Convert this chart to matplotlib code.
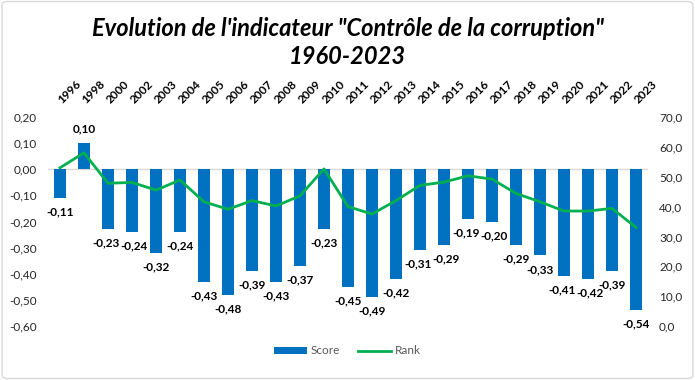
import matplotlib
matplotlib.use("Agg")
import matplotlib.pyplot as plt
from matplotlib.patches import Patch, FancyBboxPatch
from matplotlib.lines import Line2D

plt.rcParams['font.family'] = ['Lato', 'DejaVu Sans']

years = ["1996", "1998", "2000", "2002", "2003", "2004", "2005", "2006", "2007", "2008",
         "2009", "2010", "2011", "2012", "2013", "2014", "2015", "2016", "2017", "2018",
         "2019", "2020", "2021", "2022", "2023"]
score = [-0.11, 0.10, -0.23, -0.24, -0.32, -0.24, -0.43, -0.48, -0.39, -0.43,
         -0.37, -0.23, -0.45, -0.49, -0.42, -0.31, -0.29, -0.19, -0.20, -0.29,
         -0.33, -0.41, -0.42, -0.39, -0.54]
rank = [53.0, 58.0, 47.8, 48.1, 45.5, 48.9, 41.6, 39.1, 42.0, 40.2,
        43.6, 52.6, 40.0, 37.5, 42.0, 47.1, 48.2, 50.3, 49.2, 44.4,
        41.6, 38.5, 38.5, 39.4, 33.0]
left_ticks = [0.2, 0.1, 0.0, -0.1, -0.2, -0.3, -0.4, -0.5, -0.6]
right_ticks = [0, 10, 20, 30, 40, 50, 60, 70]

# small horizontal nudges (points) for labels of neighbouring bars that touch
nudge = {"2000": -1.5, "2002": 1.5, "2014": -1.2, "2015": 1.2, "2016": -1.5, "2017": 1.5,
         "2020": -1.5, "2021": 1.5}

W, H = 695, 380
fig = plt.figure(figsize=(W / 100, H / 100), dpi=100)
fig.patch.set_facecolor('white')
border = FancyBboxPatch((0.003, 0.004), 0.994, 0.992, boxstyle="round,pad=0,rounding_size=0.008",
                        transform=fig.transFigure, facecolor='none', edgecolor='#D9D9D9', lw=1)
fig.patches.append(border)

ax = fig.add_axes([48 / W, 1 - 326 / H, 600 / W, 209 / H])
x = list(range(len(years)))
bar_color = '#0070C0'
line_color = '#00B050'
ax.bar(x, score, width=0.46, color=bar_color, zorder=2)
ax.set_xlim(-0.5, len(years) - 0.5)
ax.set_ylim(-0.6, 0.2)
ax.axhline(0, color='#D9D9D9', lw=1, zorder=1)
for s in ax.spines.values():
    s.set_visible(False)
ax.set_yticks(left_ticks)
ax.set_yticklabels([f"{v:.2f}".replace('.', ',') for v in left_ticks], fontsize=8.5, color='#262626')
ax.tick_params(axis='y', length=0, pad=8)

ax.xaxis.tick_top()
ax.set_xticks(x)
ax.set_xticklabels(years, fontsize=8.5, fontweight='bold', rotation=45,
                   ha='left', va='center', rotation_mode='anchor', color='#000000')
ax.tick_params(axis='x', length=0, pad=11)

for xi, yr, v in zip(x, years, score):
    off = 10 if v >= 0 else -10
    ax.annotate(f"{v:.2f}".replace('.', ','), (xi, v), xytext=(nudge.get(yr, 0), off),
                textcoords='offset points', ha='center', va='center', fontsize=8.5,
                fontweight='bold', color='#000000')

ax2 = ax.twinx()
ax2.plot(x, rank, color=line_color, lw=2.0, zorder=3)
ax2.set_ylim(0, 70)
ax2.set_yticks(right_ticks)
ax2.set_yticklabels([f"{v:.1f}".replace('.', ',') for v in right_ticks], fontsize=8.5, color='#262626')
ax2.tick_params(axis='y', length=0, pad=8)
for s in ax2.spines.values():
    s.set_visible(False)

fig.text(0.5, 1 - 28 / H, "Evolution de l'indicateur \"Contrôle de la corruption\"",
         ha='center', va='center', fontsize=17, fontweight='bold', style='italic')
fig.text(0.5, 1 - 57 / H, "1960-2023", ha='center', va='center', fontsize=17,
         fontweight='bold', style='italic')

handles = [Patch(facecolor=bar_color, edgecolor='none'), Line2D([0], [0], color=line_color, lw=2)]
fig.legend(handles, ["Score", "Rank"], loc='center', bbox_to_anchor=(0.5, 1 - 351 / H), ncol=2,
           frameon=False, fontsize=8.5, labelcolor='#595959', handlelength=2.8, handleheight=0.6,
           columnspacing=1.5, handletextpad=0.3)

fig.savefig("out.png", dpi=100)
